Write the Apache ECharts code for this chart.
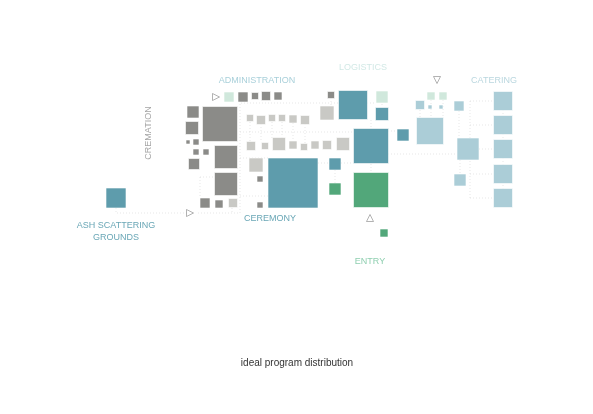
<!DOCTYPE html>
<html><head><meta charset="utf-8">
<script src="https://cdn.jsdelivr.net/npm/echarts@6/dist/echarts.min.js"></script>
<style>html,body{margin:0;padding:0;background:#fff}#c{width:593px;height:414px}</style>
</head><body><div id="c"></div>
<script>
// [x, y, side] in diagram units
const darkGray = [[243,97,10],[255,96,7],[266,96,9],[278,96,8],[331,95,7],
  [193,112,12],[192,128,13],[188,142,4],[196,142,6],[196,152,6],[206,152,6],[194,164,11],
  [220,124,35],[226,157,23],[226,184,23],[205,203,10],[219,204,8],[260,179,6],[260,205,6]];
const lightGray = [[233,203,9],[250,118,7],[261,120,9],[272,118,7],[282,118,7],[293,119,8],[305,120,9],
  [327,113,14],[251,146,9],[265,146,7],[279,144,13],[293,145,8],[304,147,7],[315,145,8],[327,145,9],
  [343,144,13],[256,165,14]];
const teal = [[116,198,20],[293,183,50],[335,164,12],[353,105,29],[382,114,13],[371,146,35],[403,135,12]];
const green = [[335,189,12],[371,190,35],[384,233,8]];
const paleGreen = [[229,97,10],[382,97,12],[431,96,8],[443,96,8]];
const lightBlue = [[420,105,9],[430,107,4],[441,107,4],[430,131,27],[459,106,10],[468,149,22],[460,180,12],
  [503,101,19],[503,125,19],[503,149,19],[503,174,19],[503,198,19]];
const connectors = [
  [[116,208],[116,213],[188,213]],
  [[198,213],[240,213],[240,103],[338,103]],
  [[240,132],[353,132]],
  [[240,158],[268,158]],
  [[240,196],[268,196]],
  [[318,163],[329,163]],
  [[341,163],[353,163]],
  [[367,103],[376,103]],
  [[382,104],[382,107]],
  [[371,120],[371,129]],
  [[371,164],[371,173]],
  [[388,131],[397,131]],
  [[388,154],[457,154]],
  [[331,98],[331,106]],
  [[335,170],[335,183]],
  [[250,122],[250,142]],[[261,124],[261,142]],[[272,122],[272,138]],[[282,122],[282,138]],[[293,123],[293,141]],[[305,124],[305,143]],
  [[420,110],[420,118]],[[431,100],[431,118]],[[443,100],[443,118]],
  [[459,111],[459,138]],[[460,160],[460,174]],
  [[479,149],[493,149]],
  [[470,101],[470,198]],
  [[470,101],[493,101]],[[470,125],[493,125]],[[470,174],[493,174]],[[470,198],[493,198]],
  [[503,110],[503,189]],
  [[200,177],[200,198]],[[200,177],[215,177]],
  [[232,208],[232,213]]
];
const triangles = [[216,97,-90],[190,213,-90],[370,218,0],[437,80,180]];
const labels = [
  ['ADMINISTRATION',257,81,'#a9d0da'],['LOGISTICS',363,68,'#d2e9e6'],['CATERING',494,81,'#bad7df'],
  ['CEREMONY',270,219,'#6aa7b6'],['ENTRY',370,262,'#8fcfb0'],
  ['ASH SCATTERING\nGROUNDS',116,232,'#6aa7b6']
];
const title = 'ideal program distribution';

const block = (data, color) => ({
  type:'custom', data, silent:true,
  renderItem(params, api){
    const c = api.coord([api.value(0), api.value(1)]);
    const s = api.size([api.value(2), api.value(2)]);
    return {type:'rect', shape:{x:c[0]-s[0]/2, y:c[1]-s[1]/2, width:s[0], height:s[1]},
      style:{fill:color, stroke:'#fff', lineWidth:0.6}};
  }
});
const chart = echarts.init(document.getElementById('c'));
chart.setOption({
  animation:false,
  grid:{left:0,right:0,top:0,bottom:0},
  xAxis:{type:'value',min:0,max:593,show:false},
  yAxis:{type:'value',min:0,max:414,inverse:true,show:false},
  series:[
    {type:'lines',coordinateSystem:'cartesian2d',polyline:true,silent:true,z:1,
     lineStyle:{color:'#cfcfcf',width:1,type:[1,2]},
     data:connectors.map(c=>({coords:c}))},
    block(darkGray,'#8b8b88'), block(lightGray,'#c9c9c5'), block(teal,'#5e9cac'),
    block(green,'#52a77a'), block(paleGreen,'#d0e8dc'), block(lightBlue,'#abcdd7'),
    {type:'scatter',symbol:'triangle',symbolSize:7,silent:true,
     data:triangles.map(t=>({value:[t[0],t[1]],symbolRotate:t[2]})),
     itemStyle:{color:'#fff',borderColor:'#888',borderWidth:0.8}},
    {type:'custom',silent:true,data:labels.map(l=>[l[1],l[2]]),
     renderItem(params, api){
       const l = labels[params.dataIndex]; const c = api.coord([l[1],l[2]]);
       return {type:'text',x:c[0],y:c[1],style:{text:l[0],fill:l[3],font:'9px "Liberation Sans", Arial',align:'center',verticalAlign:'middle',lineHeight:12}};
     }}
  ],
  graphic:[
    {type:'text',x:149,y:133,rotation:Math.PI/2,style:{text:'CREMATION',fill:'#a5a5a5',font:'9px "Liberation Sans", Arial',align:'center',verticalAlign:'middle'}},
    {type:'text',x:297,y:363,style:{text:title,fill:'#333',font:'10px "Liberation Sans", Arial',align:'center',verticalAlign:'middle'}}
  ]
});
</script></body></html>
